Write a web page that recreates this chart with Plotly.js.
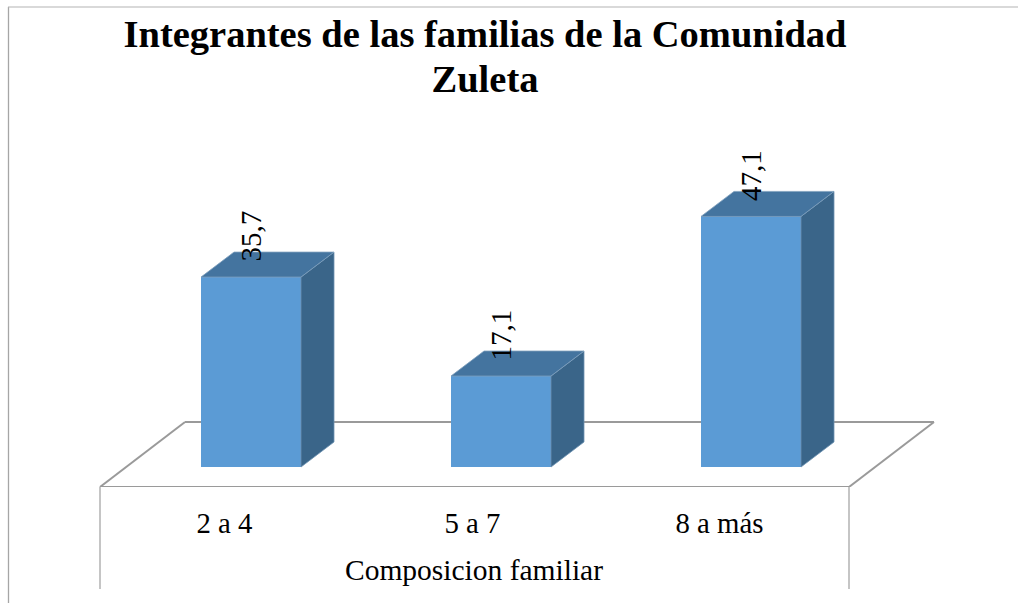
<!DOCTYPE html>
<html>
<head>
<meta charset="utf-8">
<script src="https://cdn.plot.ly/plotly-3.0.1.min.js"></script>
<style>html,body{margin:0;padding:0;background:#fff;overflow:hidden}#chart{width:1018px;height:603px}</style>
</head>
<body>
<div id="chart"></div>
<script>
const categories = ["2 a 4", "5 a 7", "8 a más"];
const positions = [0, 1, 2];
const tickPositions = [-0.106, 0.886, 1.874];
const values = [35.7, 17.1, 47.1];
const labels = ["35,7", "17,1", "47,1"];
const chartTitle = "Integrantes de las familias de la Comunidad<br>Zuleta";
const axisTitle = "Composicion familiar";

const barWidth = 0.4, depthX = 0.132, depthY = 4.7;
const serif = "Liberation Serif";
const frontColor = "#5B9BD5", topColor = "#44749F", sideColor = "#3A6589", lineColor = "#9A9A9A";

const hw = barWidth / 2;
const traces = [];
positions.forEach((p, i) => {
  const v = values[i];
  traces.push({type: "scatter", mode: "lines", fill: "toself", fillcolor: sideColor,
    x: [p + hw, p + hw + depthX, p + hw + depthX, p + hw, p + hw],
    y: [0, depthY, v + depthY, v, 0],
    line: {width: 0.8, color: "#6F93B3"}, hoverinfo: "skip", showlegend: false});
  traces.push({type: "scatter", mode: "lines", fill: "toself", fillcolor: topColor,
    x: [p - hw, p - hw + depthX, p + hw + depthX, p + hw, p - hw],
    y: [v, v + depthY, v + depthY, v, v],
    line: {width: 0.8, color: "#7F9FBD"}, hoverinfo: "skip", showlegend: false});
});
traces.push({type: "bar", x: positions, y: values, width: barWidth,
  marker: {color: frontColor, line: {width: 0}}, showlegend: false, hoverinfo: "x+y"});

const floorX = [-0.604, 2.392, 2.732, -0.264, -0.604];
const floorY = [-3.76, -3.76, 8.46, 8.46, -3.76];
const shapes = [];
for (let i = 0; i < 4; i++) {
  shapes.push({type: "line", line: {color: lineColor, width: 2}, layer: "below", xref: "x", yref: "y",
    x0: floorX[i], y0: floorY[i], x1: floorX[i + 1], y1: floorY[i + 1]});
}
const vert = (xp, y0p, y1p) => ({type: "line", line: {color: "#A6A6A6", width: 1.3}, layer: "below",
  xref: "paper", yref: "paper", x0: xp / 1018, x1: xp / 1018,
  y0: (487 - y0p) / 487, y1: (487 - y1p) / 487});
shapes.push(vert(100, 487, 589));
shapes.push(vert(849, 487, 589));
shapes.push(vert(8.5, 7, 603));
shapes.push({type: "line", line: {color: "#B4B4B4", width: 1.2}, layer: "below",
  xref: "paper", yref: "paper", x0: 8 / 1018, x1: 1, y0: 480 / 487, y1: 480 / 487});

const annotations = positions.map((p, i) => ({
  x: p, y: values[i], xref: "x", yref: "y", text: labels[i], textangle: -90,
  showarrow: false, xanchor: "center", yanchor: "middle", xshift: 0.5, yshift: 41,
  font: {family: serif, size: 29, color: "#000"}
}));

const layout = {
  width: 1018, height: 603,
  margin: {l: 0, r: 0, t: 0, b: 116, pad: 0},
  paper_bgcolor: "#fff", plot_bgcolor: "rgba(0,0,0,0)",
  showlegend: false, bargap: 0,
  title: {text: chartTitle, x: 485 / 1018, xanchor: "center", xref: "paper",
    y: 1 - 47 / 603, yanchor: "alphabetic",
    font: {family: serif, size: 38.5, color: "#000", weight: "bold"}},
  xaxis: {domain: [0, 948 / 1018], range: [-251 / 250, 697 / 250],
    tickvals: tickPositions, ticktext: categories,
    showgrid: false, zeroline: false, showline: false, ticks: "", ticklabelstandoff: 16,
    tickfont: {family: serif, size: 28.8, color: "#000"},
    title: {text: axisTitle, standoff: 21, font: {family: serif, size: 29.5, color: "#000"}},
    automargin: false, fixedrange: true},
  yaxis: {range: [-3.76, 87.78], showgrid: false, zeroline: false, showline: false,
    showticklabels: false, ticks: "", automargin: false, fixedrange: true},
  shapes: shapes, annotations: annotations
};
Plotly.newPlot("chart", traces, layout, {displayModeBar: false, responsive: false}).then(gd => {
  gd.querySelectorAll(".gtitle tspan.line").forEach((t, i) => { if (i > 0) t.setAttribute("dy", "1.17em"); });
});
</script>
</body>
</html>
